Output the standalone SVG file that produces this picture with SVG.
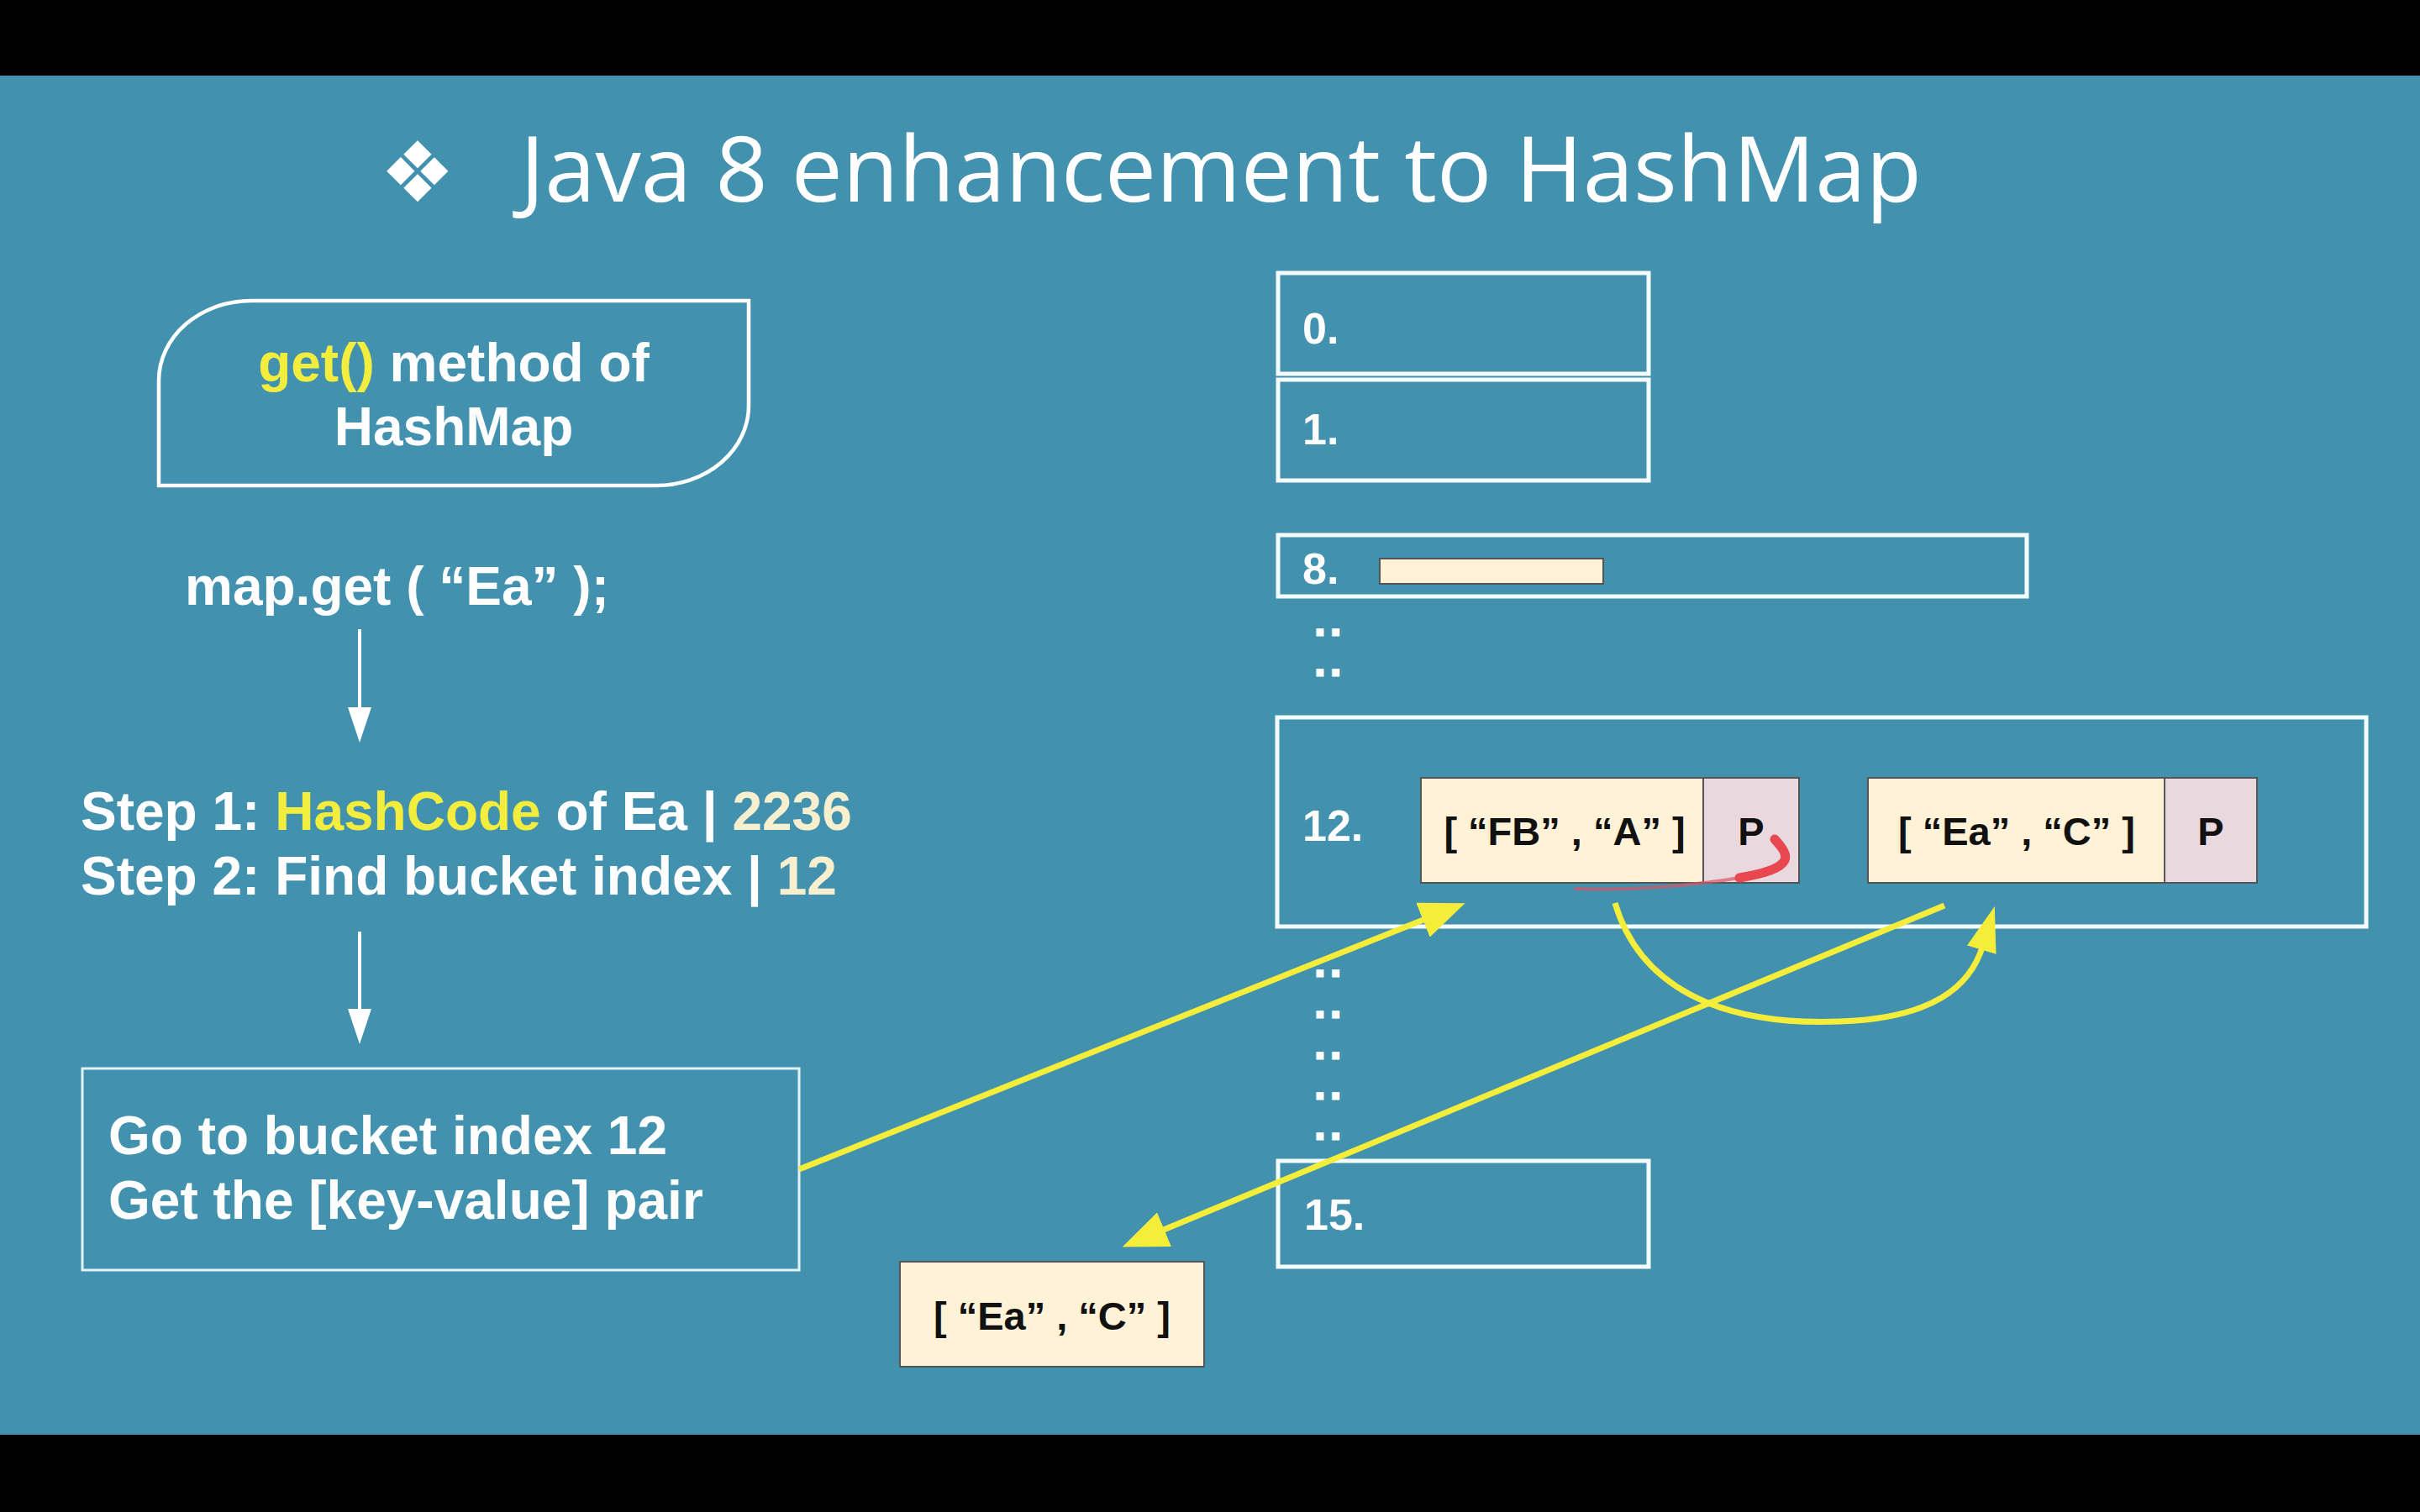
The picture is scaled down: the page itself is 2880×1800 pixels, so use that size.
<svg xmlns="http://www.w3.org/2000/svg" width="2880" height="1800" viewBox="0 0 2880 1800">
  <style>
    .lbl { font-family: "Liberation Sans", Arial, sans-serif; font-weight: bold; font-size: 64px; fill: #ffffff; }
    .ylw { fill: #f3ee3d; }
    .crm { fill: #f8efce; }
    .idx { font-family: "Liberation Sans", Arial, sans-serif; font-weight: bold; font-size: 52px; fill: #ffffff; }
    .dots { font-family: "Liberation Sans", Arial, sans-serif; font-weight: bold; font-size: 42px; letter-spacing: 7px; fill: #ffffff; stroke: #ffffff; stroke-width: 3; }
    .bucket { fill: none; stroke: #f4fbfd; stroke-width: 5; }
    .kv { fill: #fff2d6; stroke: #555555; stroke-width: 2; }
    .ptr { fill: #e9d9df; stroke: #555555; stroke-width: 2; }
    .kvtxt { font-family: "Liberation Sans", Arial, sans-serif; font-weight: bold; font-size: 47px; fill: #111111; text-anchor: middle; }
    .wline { stroke: #ffffff; stroke-width: 4; fill: none; }
    .yline { stroke: #f4ed3a; stroke-width: 7; fill: none; }
  </style>
  <defs>
    <marker id="whiteHead" markerUnits="userSpaceOnUse" markerWidth="44" markerHeight="28" refX="4" refY="14" orient="auto">
      <path d="M0,0 L42,14 L0,28 Z" fill="#ffffff"/>
    </marker>
    <marker id="yellowHead" markerUnits="userSpaceOnUse" markerWidth="56" markerHeight="44" refX="6" refY="22" orient="auto">
      <path d="M0,0 L54,22 L0,44 Z" fill="#f4ed3a"/>
    </marker>
    <marker id="yellowHeadNarrow" markerUnits="userSpaceOnUse" markerWidth="56" markerHeight="36" refX="6" refY="18" orient="auto">
      <path d="M0,0 L54,18 L0,36 Z" fill="#f4ed3a"/>
    </marker>
  </defs>

  <!-- backdrop with letterbox bands -->
  <rect x="0" y="0" width="2880" height="1800" fill="#4291ae"/>
  <rect x="0" y="0" width="2880" height="90" fill="#000000"/>
  <rect x="0" y="1708" width="2880" height="92" fill="#000000"/>

  <!-- heading -->
  <g id="title">
    <text x="452" y="240" font-family="DejaVu Sans, sans-serif" font-size="100" fill="#ffffff">❖</text>
    <text x="619" y="240" font-family="Open Sans, sans-serif" font-size="108" fill="#ffffff" textLength="1668" lengthAdjust="spacingAndGlyphs">Java 8 enhancement to HashMap</text>
  </g>

  <!-- left column: flow of the get() call -->
  <g id="get-method">
    <path d="M299,358 H891 V483 A110,95 0 0 1 781,578 H189 V453 A110,95 0 0 1 299,358 Z" fill="none" stroke="#ffffff" stroke-width="4.5"/>
    <text class="lbl" x="540" y="454" text-anchor="middle"><tspan class="ylw">get()</tspan> method of</text>
    <text class="lbl" x="540" y="530" text-anchor="middle">HashMap</text>
  </g>

  <g id="call">
    <text class="lbl" x="220" y="720">map.get ( “Ea” );</text>
  </g>

  <g id="steps">
    <text class="lbl" x="96" y="988">Step 1: <tspan class="ylw">HashCode</tspan> of Ea | <tspan class="crm">2236</tspan></text>
    <text class="lbl" x="96" y="1065">Step 2: Find bucket index | <tspan class="crm">12</tspan></text>
  </g>

  <g id="goto-bucket">
    <rect x="98" y="1272" width="853" height="240" fill="none" stroke="#e4f3f8" stroke-width="3"/>
    <text class="lbl" x="129" y="1374">Go to bucket index 12</text>
    <text class="lbl" x="129" y="1451">Get the [key-value] pair</text>
  </g>

  <!-- bucket table -->
  <g id="bucket-0">
    <rect class="bucket" x="1521" y="325" width="441" height="120"/>
    <text class="idx" x="1550" y="409">0.</text>
  </g>
  <g id="bucket-1">
    <rect class="bucket" x="1521" y="452" width="441" height="120"/>
    <text class="idx" x="1550" y="529">1.</text>
  </g>
  <g id="bucket-8">
    <rect class="bucket" x="1521" y="637" width="891" height="73"/>
    <text class="idx" x="1550" y="695">8.</text>
    <rect x="1642" y="665" width="266" height="30" fill="#fff2d6" stroke="#555555" stroke-width="2"/>
  </g>
  <!-- elided bucket rows -->
  <g id="gap-upper">
    <text class="dots" x="1565" y="756">..</text>
    <text class="dots" x="1565" y="804">..</text>
  </g>
  <g id="bucket-12">
    <rect class="bucket" x="1520" y="854" width="1296" height="249"/>
    <text class="idx" x="1550" y="1001">12.</text>
  </g>
  <g id="gap-lower">
    <text class="dots" x="1565" y="1162">..</text>
    <text class="dots" x="1565" y="1211">..</text>
    <text class="dots" x="1565" y="1260">..</text>
    <text class="dots" x="1565" y="1308">..</text>
    <text class="dots" x="1565" y="1356">..</text>
  </g>
  <g id="bucket-15">
    <rect class="bucket" x="1521" y="1382" width="441" height="126"/>
    <text class="idx" x="1552" y="1464" font-weight="normal">15.</text>
  </g>

  <!-- entries chained in bucket 12 -->
  <g id="entry-fb">
    <rect class="kv" x="1691" y="926" width="336" height="125"/>
    <rect class="ptr" x="2027" y="926" width="114" height="125"/>
    <text class="kvtxt" x="1862" y="1006">[ “FB” , “A” ]</text>
    <text class="kvtxt" x="2084" y="1006">P</text>
  </g>
  <g id="entry-ea">
    <rect class="kv" x="2223" y="926" width="353" height="125"/>
    <rect class="ptr" x="2576" y="926" width="110" height="125"/>
    <text class="kvtxt" x="2400" y="1006">[ “Ea” , “C” ]</text>
    <text class="kvtxt" x="2631" y="1006">P</text>
  </g>

  <!-- returned pair -->
  <g id="result">
    <rect class="kv" x="1071" y="1502" width="362" height="125"/>
    <text class="kvtxt" x="1252" y="1583">[ “Ea” , “C” ]</text>
  </g>

  <!-- pen mark on the FB pointer -->
  <g id="pen-mark">
    <path d="M2070,1045 C2010,1055 1940,1060 1875,1058" fill="none" stroke="#d65565" stroke-width="4" stroke-linecap="round" opacity="0.7"/>
    <path d="M2112,999 C2120,1008 2127,1016 2124,1024 C2119,1034 2100,1040 2070,1045" fill="none" stroke="#e8474f" stroke-width="11" stroke-linecap="round"/>
  </g>

  <g id="connectors">
    <line class="wline" x1="428" y1="749" x2="428" y2="846" marker-end="url(#whiteHead)"/>
    <line class="wline" x1="428" y1="1109" x2="428" y2="1205" marker-end="url(#whiteHead)"/>
    <line class="yline" x1="951" y1="1392" x2="1699" y2="1093" marker-end="url(#yellowHead)"/>
    <line class="yline" x1="2314" y1="1078" x2="1380" y2="1466" marker-end="url(#yellowHead)"/>
    <path class="yline" d="M1922,1075 C1950,1170 2040,1222 2190,1216 C2300,1212 2345,1175 2360,1125" marker-end="url(#yellowHeadNarrow)"/>
  </g>
</svg>
